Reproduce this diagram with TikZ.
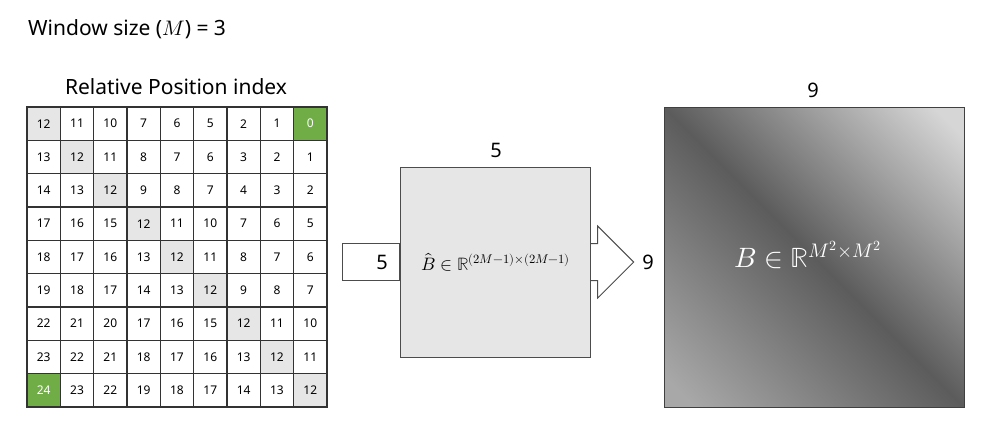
\documentclass[tikz,border=0pt]{standalone}
\usepackage{fontspec}
\usepackage{unicode-math}
\setmainfont{Noto Sans}
\setmathfont{Latin Modern Math}
\usetikzlibrary{positioning}

\definecolor{vert}{HTML}{70AD47}
\definecolor{grisclair}{HTML}{E7E6E6}
\definecolor{trait}{HTML}{333333}
\pgfdeclarehorizontalshading{bandshade}{100bp}{color(0bp)=(black!34); color(18bp)=(black!34); color(50bp)=(black!64); color(82bp)=(black!16); color(100bp)=(black!16)}

\tikzset{
  cell/.style={draw=trait, line width=1.1pt, minimum size=33.33pt, inner sep=0pt,
    font=\fontsize{12}{14}\selectfont},
  dim/.style={font=\fontsize{20}{24}\selectfont, inner sep=0pt}
}

\begin{document}
\begin{tikzpicture}[x=1pt, y=-1pt]
    \useasboundingbox (0,0) rectangle (1008,447);

    % Titres
    \node[anchor=base west, inner sep=0pt, font=\fontsize{21}{25}\selectfont] (titre) at (28,35) {Window size ($M$) = 3};
    \node[anchor=base, inner sep=0pt, font=\fontsize{21}{25}\selectfont] (soustitre) at (176,94) {Relative Position index};

    % Tableau des index
    \foreach \row [count=\r from 0] in {
        {12,11,10,7,6,5,2,1,0},
        {13,12,11,8,7,6,3,2,1},
        {14,13,12,9,8,7,4,3,2},
        {17,16,15,12,11,10,7,6,5},
        {18,17,16,13,12,11,8,7,6},
        {19,18,17,14,13,12,9,8,7},
        {22,21,20,17,16,15,12,11,10},
        {23,22,21,18,17,16,13,12,11},
        {24,23,22,19,18,17,14,13,12}} {
      \foreach \v [count=\c from 0] in \row {
        \ifnum\r=\c \def\fond{grisclair}\else\def\fond{white}\fi
        \def\encre{black}
        \ifnum\v=0 \def\fond{vert}\def\encre{white}\fi
        \ifnum\v=24 \def\fond{vert}\def\encre{white}\fi
        \node[cell, fill=\fond, text=\encre] (c-\r-\c) at (43.67+33.33*\c, 123.67+33.33*\r) {\v};
      }
    }

    % Petite table B chapeau
    \node[draw=black!70, line width=1pt, fill=grisclair, minimum size=190pt, inner sep=0pt,
          font=\fontsize{18}{22}\selectfont] (bhat) at (495.7,262)
          {$\hat{B}\in\mathbb{R}^{(2M-1)\times(2M-1)}$};
    \node[dim] (haut5) at (496,150) {5};

    % Entree a gauche
    \node[draw=black!70, line width=1pt, fill=white, minimum width=57pt, minimum height=37pt,
          anchor=east] (entree) at (bhat.west) {};
    \node[dim] (gauche5) at (382,262) {5};

    % Fleche vers la droite
    \draw[draw=black!70, line width=1pt, fill=white] (bhat.east) ++(0,-18.5) -- ++(6.5,0) -- ++(0,-17.5)
        -- ++(36,36) -- ++(-36,36) -- ++(0,-17.5) -- ++(-6.5,0);
    \node[dim] (droite9) at (648,262) {9};

    % Grande matrice B
    \node[draw=black!75, line width=1pt, shade, shading=bandshade, shading angle=45,
          minimum size=300pt, inner sep=0pt] (bmat) at (814,257) {};
    \node[text=white, inner sep=0pt, font=\fontsize{28}{32}\selectfont] (blabel) at (808,255)
          {$B\in\mathbb{R}^{M^2\times M^2}$};
    \node[dim] (haut9) at (813,90) {9};
\end{tikzpicture}
\end{document}
